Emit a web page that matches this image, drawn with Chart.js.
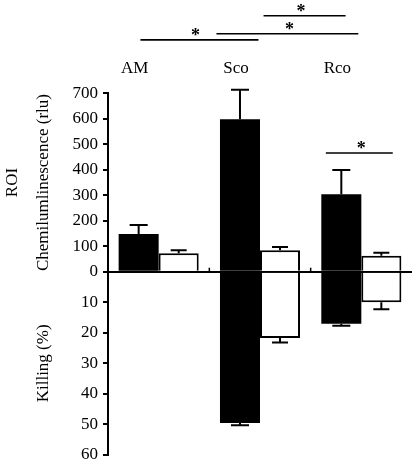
<!DOCTYPE html>
<html><head><meta charset="utf-8">
<script src="https://cdn.jsdelivr.net/npm/chart.js@4/dist/chart.umd.min.js"></script>
<style>html,body{margin:0;padding:0;background:#fff}</style>
</head><body>
<canvas id="c" width="415" height="459"></canvas>
<script>
// ---- data ----
const categories = ['AM', 'Sco', 'Rco'];
const chemiBlack    = [148, 599, 304];
const chemiBlackErr = [35, 115, 95];
const chemiWhite    = [72, 84, 63];
const chemiWhiteErr = [12, 13, 11];
const killBlack     = [0, 49.5, 17];
const killBlackErr  = [0, 0.8, 0.7];
const killWhite     = [0, 21.7, 10];
const killWhiteErr  = [0, 1.5, 2.3];
const chemiTicks = [0, 100, 200, 300, 400, 500, 600, 700];
const killTicks  = [0, 10, 20, 30, 40, 50, 60];
// significance brackets: x in category units, y in chemiluminescence units
const sigFrom  = [-0.18, 0.57, 1.035, 1.65];
const sigTo    = [0.985, 1.97, 1.845, 2.31];
const sigLevel = [910, 934, 1005, 466];
const sigStar  = [0.364, 1.29, 1.405, 2.0];

const SERIF = "'Liberation Serif', 'Times New Roman', serif";
Chart.defaults.font.family = SERIF;
Chart.defaults.font.size = 17;
Chart.defaults.color = '#000';

const errorBars = {
  id: 'errorBars',
  afterDatasetsDraw(chart) {
    const ctx = chart.ctx;
    ctx.save();
    ctx.strokeStyle = '#000';
    ctx.lineWidth = 2;
    chart.data.datasets.forEach((ds, di) => {
      const meta = chart.getDatasetMeta(di);
      const ys = chart.scales[meta.yAxisID];
      meta.data.forEach((bar, i) => {
        const v = ds.data[i], e = ds.errors[i];
        if (!e) return;
        const y0 = ys.getPixelForValue(v), y1 = ys.getPixelForValue(v + e);
        const h = ds.capHalf;
        ctx.beginPath();
        ctx.moveTo(bar.x, y0); ctx.lineTo(bar.x, y1);
        ctx.moveTo(bar.x - h, y1); ctx.lineTo(bar.x + h, y1);
        ctx.stroke();
      });
    });
    ctx.restore();
  }
};

const annotations = {
  id: 'annotations',
  afterDraw(chart) {
    const ctx = chart.ctx;
    const xs = chart.scales.x, ys = chart.scales.yUp, yd = chart.scales.yDown;
    const p0 = xs.getPixelForValue(0), step = xs.getPixelForValue(1) - p0;
    const xu = u => p0 + u * step;
    ctx.save();
    ctx.strokeStyle = '#000';
    ctx.fillStyle = '#000';
    ctx.lineWidth = 1.6;
    ctx.font = 'bold 18px ' + SERIF;
    ctx.textAlign = 'center';
    ctx.textBaseline = 'alphabetic';
    for (let k = 0; k < sigFrom.length; k++) {
      const y = ys.getPixelForValue(sigLevel[k]);
      ctx.beginPath();
      ctx.moveTo(xu(sigFrom[k]), y); ctx.lineTo(xu(sigTo[k]), y);
      ctx.stroke();
      ctx.fillText('*', xu(sigStar[k]), y + 1);
    }
    // small ticks on the zero line between groups
    const zy = yd.getPixelForValue(0);
    ctx.lineWidth = 1.5;
    for (let i = 1; i < categories.length; i++) {
      const bx = (xs.getPixelForValue(i - 1) + xs.getPixelForValue(i)) / 2;
      ctx.beginPath(); ctx.moveTo(bx, zy - 4); ctx.lineTo(bx, zy); ctx.stroke();
    }
    ctx.restore();
  }
};

const fitAxis = s => { s.paddingTop = 0; s.paddingBottom = 0; s.width = 108; };

new Chart(document.getElementById('c'), {
  type: 'bar',
  data: {
    labels: categories,
    datasets: [
      { data: chemiBlack, errors: chemiBlackErr, capHalf: 9, yAxisID: 'yUp', stack: 'black',
        backgroundColor: '#000', borderWidth: 0 },
      { data: chemiWhite, errors: chemiWhiteErr, capHalf: 8, yAxisID: 'yUp', stack: 'white',
        backgroundColor: '#fff', borderColor: '#000', borderWidth: 2 },
      { data: killBlack, errors: killBlackErr, capHalf: 9, yAxisID: 'yDown', stack: 'black',
        backgroundColor: '#000', borderWidth: 0 },
      { data: killWhite, errors: killWhiteErr, capHalf: 8, yAxisID: 'yDown', stack: 'white',
        backgroundColor: '#fff', borderColor: '#000', borderWidth: 2 }
    ]
  },
  options: {
    responsive: false,
    animation: false,
    events: [],
    categoryPercentage: 0.79,
    barPercentage: 1.0,
    layout: { padding: { top: 43, right: 3, bottom: 4, left: 0 } },
    plugins: { legend: { display: false }, tooltip: { enabled: false } },
    scales: {
      x: {
        position: 'top',
        grid: { display: false, drawTicks: false },
        border: { display: false },
        ticks: { padding: 15, labelOffset: -24, font: { size: 17, family: SERIF } }
      },
      yUp: {
        position: 'left', stack: 'axes', stackWeight: 178.5, weight: 1, stacked: false,
        min: chemiTicks[0], max: chemiTicks[chemiTicks.length - 1],
        afterBuildTicks: s => { s.ticks = chemiTicks.map(v => ({ value: v })); },
        afterFit: fitAxis,
        border: { display: true, color: '#000', width: 2 },
        grid: { drawOnChartArea: false, color: '#000', tickLength: 5, lineWidth: 2 },
        ticks: { padding: 5, font: { size: 17, lineHeight: 0.4, family: SERIF } },
        title: { display: true, text: ['ROI', 'Chemilumlinescence (rlu)'],
                 font: { size: 17, lineHeight: 1.82, family: SERIF }, padding: { top: -3, bottom: 10 } }
      },
      yDown: {
        position: 'left', stack: 'axes', stackWeight: 183.5, weight: 0, stacked: false, reverse: true,
        min: killTicks[0], max: killTicks[killTicks.length - 1],
        afterBuildTicks: s => { s.ticks = killTicks.map(v => ({ value: v })); },
        afterFit: fitAxis,
        border: { display: true, color: '#000', width: 2 },
        grid: { drawOnChartArea: true, lineWidth: 2, tickLength: 5, tickColor: '#000',
                color: c => (c.tick && c.tick.value === 0) ? '#000' : 'rgba(0,0,0,0)' },
        ticks: { padding: 5, font: { size: 17, lineHeight: 0.4, family: SERIF },
                 callback: v => v === 0 ? '' : String(v) },
        title: { display: true, text: 'Killing (%)',
                 font: { size: 17, lineHeight: 1.82, family: SERIF }, padding: { top: 28, bottom: 0 } }
      }
    }
  },
  plugins: [errorBars, annotations]
});
</script>
</body></html>
